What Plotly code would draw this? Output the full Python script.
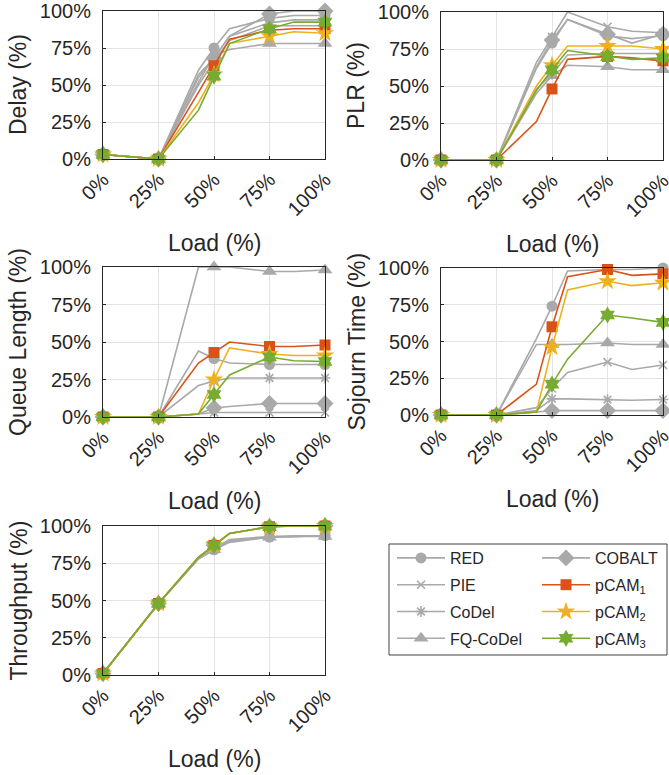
import plotly.graph_objects as go

# ---------------- data ----------------
load_x = [0, 25, 43, 50, 57, 75, 86, 100]          # load (%) sample points
marker_at = [1, 1, 0, 1, 0, 1, 0, 1]                # markers shown at 0/25/50/75/100 %
tick_vals = [0, 25, 50, 75, 100]
tick_text = ["0%", "25%", "50%", "75%", "100%"]

algorithms = ["RED", "PIE", "CoDel", "FQ-CoDel", "COBALT", "pCAM1", "pCAM2", "pCAM3"]

delay_RED    = [3, 0, 60, 75, 88, 95, 97, 97]
delay_PIE    = [3, 0, 57, 68, 83, 92, 94, 94]
delay_CoDel  = [3, 0, 50, 66, 80, 90, 90, 90]
delay_FQ     = [3, 0, 52, 70, 74, 78, 78, 78]
delay_COBALT = [3, 0, 55, 68, 83, 98, 100, 100]
delay_pCAM1  = [3, 0, 45, 63, 81, 87, 88, 88]
delay_pCAM2  = [3, 0, 38, 57, 78, 83, 86, 85]
delay_pCAM3  = [3, 0, 33, 56, 78, 88, 92.5, 92.5]

plr_RED    = [0, 0, 62, 79, 95, 84, 82, 84]
plr_PIE    = [0, 0, 66, 83, 100, 90, 87, 86]
plr_CoDel  = [0, 0, 48, 58, 71, 72, 72, 72]
plr_FQ     = [0, 0, 45, 57, 64, 63, 61, 61]
plr_COBALT = [0, 0, 63, 81, 95, 85, 79, 85]
plr_pCAM1  = [0, 0, 26, 48, 68, 70, 69, 67]
plr_pCAM2  = [0, 0, 50, 64, 77, 77, 77, 75]
plr_pCAM3  = [0, 0, 47, 61, 74, 70, 68, 69]

queue_RED    = [0, 0, 44, 39, 36, 35, 35, 35]
queue_PIE    = [0, 0, 2, 3, 3, 3, 3, 3]
queue_CoDel  = [0, 0, 21, 24, 26, 26, 26, 26]
queue_FQ     = [0, 0, 100, 100, 100, 97, 97, 98]
queue_COBALT = [0, 0, 2, 6, 7, 9, 9, 9]
queue_pCAM1  = [0, 0, 36, 43, 50, 47, 47, 48]
queue_pCAM2  = [0, 0, 2, 25, 46, 42, 41, 41]
queue_pCAM3  = [0, 0, 2, 15, 28, 40, 37.5, 37]

sojourn_RED    = [0, 0, 52, 74, 98, 99, 99, 100]
sojourn_PIE    = [0, 0, 5, 18, 29, 36, 31, 34]
sojourn_CoDel  = [0, 0, 3, 11, 11, 10.5, 10, 10.5]
sojourn_FQ     = [0, 0, 48, 48, 48, 49, 48, 48]
sojourn_COBALT = [0, 0, 2, 3, 3, 3, 3, 3]
sojourn_pCAM1  = [0, 0, 21, 60, 94, 99, 95, 96]
sojourn_pCAM2  = [0, 0, 2, 46, 85, 91, 88, 90]
sojourn_pCAM3  = [0, 0, 2, 21, 38, 68, 66, 63]

thr_RED    = [1, 48, 78, 84, 90, 92.5, 93, 93.5]
thr_PIE    = [1, 48, 78, 84, 90, 92.5, 93, 93.5]
thr_CoDel  = [1, 48, 78, 85, 91, 93, 93.5, 93.5]
thr_FQ     = [1, 48, 78, 84, 89, 92.5, 93, 93]
thr_COBALT = [1, 48, 79, 87, 95, 99.5, 100, 100]
thr_pCAM1  = [1, 48, 79, 87, 95, 99.5, 100, 100]
thr_pCAM2  = [1, 48, 79, 87, 95, 99.5, 100, 100]
thr_pCAM3  = [1, 48, 79, 87, 95, 99.5, 100, 100]

panels = [
    ("Delay (%)", [delay_RED, delay_PIE, delay_CoDel, delay_FQ, delay_COBALT, delay_pCAM1, delay_pCAM2, delay_pCAM3]),
    ("PLR (%)", [plr_RED, plr_PIE, plr_CoDel, plr_FQ, plr_COBALT, plr_pCAM1, plr_pCAM2, plr_pCAM3]),
    ("Queue Length (%)", [queue_RED, queue_PIE, queue_CoDel, queue_FQ, queue_COBALT, queue_pCAM1, queue_pCAM2, queue_pCAM3]),
    ("Sojourn Time (%)", [sojourn_RED, sojourn_PIE, sojourn_CoDel, sojourn_FQ, sojourn_COBALT, sojourn_pCAM1, sojourn_pCAM2, sojourn_pCAM3]),
    ("Throughput (%)", [thr_RED, thr_PIE, thr_CoDel, thr_FQ, thr_COBALT, thr_pCAM1, thr_pCAM2, thr_pCAM3]),
]

# ---------------- styling ----------------
W, H = 669, 775
GRAY = "#A9A9A9"
TXT = "#262626"
FONT = "Arial"

styles = {
    "RED":      dict(name="RED", color=GRAY, symbol="circle", size=11, lw=0, leg="legend"),
    "PIE":      dict(name="PIE", color=GRAY, symbol="x-thin", size=8, lw=1.6, leg="legend"),
    "CoDel":    dict(name="CoDel", color=GRAY, symbol="asterisk", size=9, lw=1.6, leg="legend"),
    "FQ-CoDel": dict(name="FQ-CoDel", color=GRAY, symbol="triangle-up", size=13, lw=0, leg="legend"),
    "COBALT":   dict(name="COBALT", color=GRAY, symbol="diamond", size=13, lw=0, leg="legend2"),
    "pCAM1":    dict(name="pCAM<sub>1</sub>", color="#D95319", symbol="square", size=11, lw=0, leg="legend2"),
    "pCAM2":    dict(name="pCAM<sub>2</sub>", color="#EDB120", symbol="star", size=14, lw=0, leg="legend2"),
    "pCAM3":    dict(name="pCAM<sub>3</sub>", color="#77AC30", symbol="hexagram", size=13, lw=0, leg="legend2"),
}

# plot areas in pixels: (left, right, top, bottom)
boxes = [
    (103, 325, 11, 159),
    (441, 663, 12, 160),
    (103, 325, 267, 417),
    (441, 663, 268, 415),
    (103, 325, 526, 675),
]

fig = go.Figure()
layout = dict(
    width=W, height=H,
    margin=dict(l=0, r=0, t=0, b=0, autoexpand=False),
    paper_bgcolor="white", plot_bgcolor="white",
    font=dict(family=FONT, color=TXT, size=20),
    showlegend=True,
    annotations=[],
    shapes=[],
)

for i, ((ytitle, series), (l, r, t, b)) in enumerate(zip(panels, boxes)):
    sfx = "" if i == 0 else str(i + 1)
    xa, ya = "x" + sfx, "y" + sfx
    for alg, vals in zip(algorithms, series):
        st = styles[alg]
        sizes = [st["size"] if m else 0 for m in marker_at]
        opac = [1 if m else 0 for m in marker_at]
        fig.add_trace(go.Scatter(
            x=load_x, y=vals, xaxis=xa, yaxis=ya,
            mode="lines+markers", name=st["name"],
            legendgroup=alg, showlegend=False,
            cliponaxis=False,
            line=dict(color=st["color"], width=1.6),
            marker=dict(symbol=st["symbol"], size=sizes, opacity=opac,
                        color=st["color"],
                        line=dict(color=st["color"], width=st["lw"])),
            hoverinfo="skip",
        ))
    axis_common = dict(
        range=[0, 100], tickvals=tick_vals, ticktext=tick_text,
        showline=True, mirror=True, linecolor=TXT, linewidth=1,
        showgrid=True, gridcolor="#E3E3E3", gridwidth=1,
        ticks="inside", ticklen=3, tickcolor=TXT, zeroline=False,
        tickfont=dict(family=FONT, size=20, color=TXT), fixedrange=True,
        automargin=False, ticklabeloverflow="allow",
    )
    layout["xaxis" + sfx] = dict(axis_common, domain=[l / W, r / W], anchor=ya,
                                 tickangle=-45)
    layout["yaxis" + sfx] = dict(axis_common, domain=[1 - b / H, 1 - t / H], anchor=xa,
                                 ticklabelstandoff=7)
    layout["annotations"].append(dict(
        text=ytitle, xref="paper", yref="paper", x=(l - 85) / W, y=1 - (t + b) / 2 / H,
        xanchor="center", yanchor="middle", textangle=-90, showarrow=False,
        font=dict(family=FONT, size=23, color=TXT)))
    layout["annotations"].append(dict(
        text="Load (%)", xref="paper", yref="paper", x=(l + r) / 2 / W, y=1 - (b + 84) / H,
        xanchor="center", yanchor="middle", showarrow=False,
        font=dict(family=FONT, size=23, color=TXT)))

# legend-only entries (one per algorithm)
for alg in algorithms:
    st = styles[alg]
    fig.add_trace(go.Scatter(
        x=[None], y=[None], mode="lines+markers", name=st["name"],
        legend=st["leg"], legendgroup=alg, showlegend=True,
        line=dict(color=st["color"], width=1.6),
        marker=dict(symbol=st["symbol"], size=st["size"], color=st["color"],
                    line=dict(color=st["color"], width=st["lw"])),
        hoverinfo="skip",
    ))

legend_common = dict(
    orientation="v", xanchor="left", yanchor="top", itemwidth=48,
    bgcolor="rgba(0,0,0,0)", borderwidth=0, traceorder="grouped", tracegroupgap=3,
    font=dict(family=FONT, size=16, color=TXT),
)
layout["legend"] = dict(legend_common, x=392 / W, y=1 - 541 / H)
layout["legend2"] = dict(legend_common, x=537 / W, y=1 - 541 / H)

# legend frame
layout["shapes"].append(dict(
    type="rect", xref="paper", yref="paper",
    x0=389 / W, x1=667 / W, y0=1 - 655 / H, y1=1 - 544 / H,
    line=dict(color="#404040", width=1), fillcolor="rgba(0,0,0,0)", layer="below"))

fig.update_layout(**layout)
fig.write_html(
    "out.html",
    config={"displayModeBar": False, "staticPlot": True},
    post_script="document.body.style.margin='0';document.body.style.overflow='hidden';",
)
